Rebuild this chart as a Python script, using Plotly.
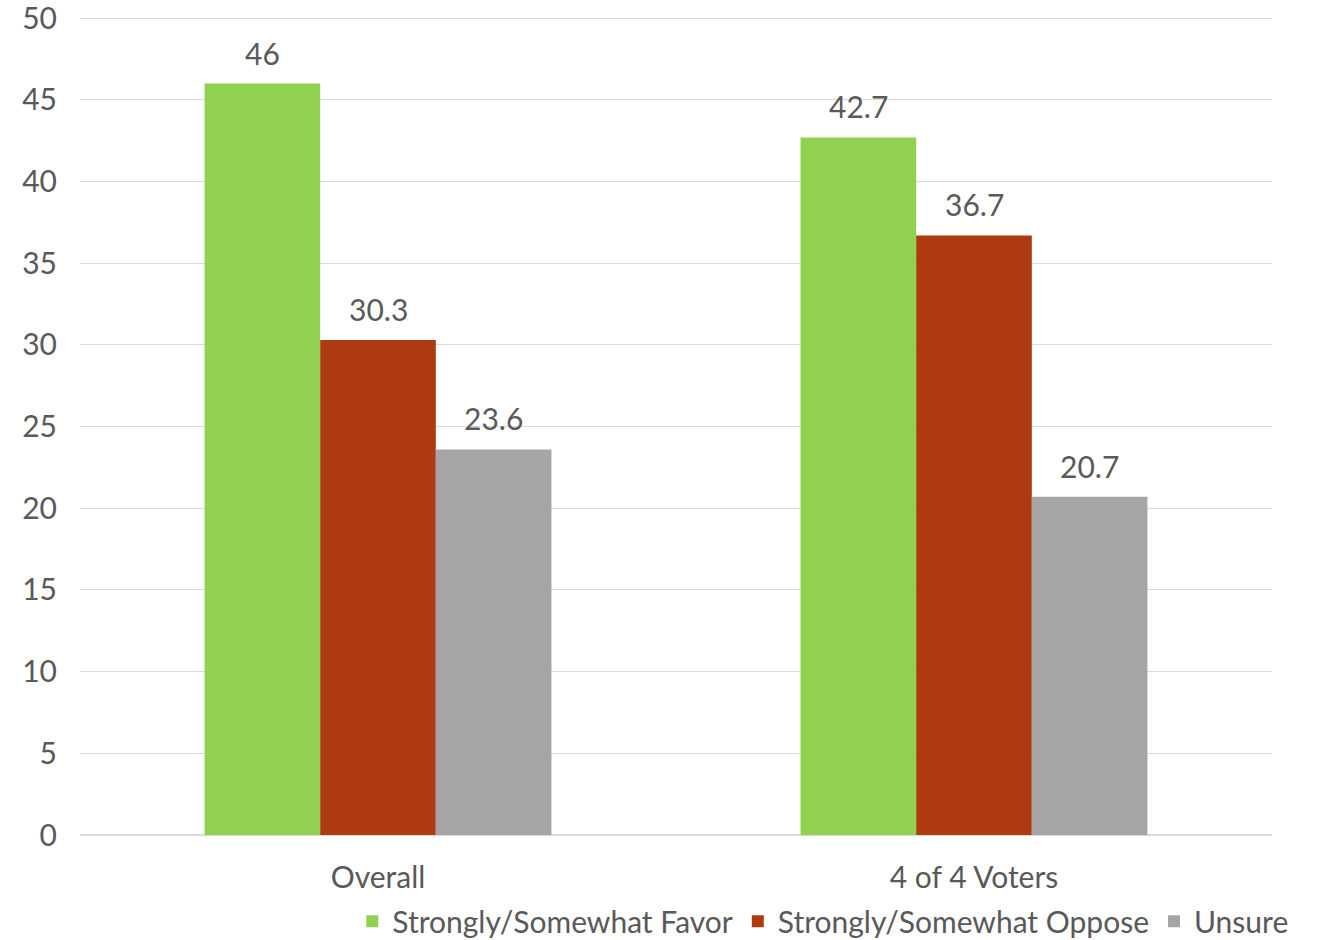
import plotly.graph_objects as go

categories = ["Overall", "4 of 4 Voters"]
favor = [46, 42.7]
oppose = [30.3, 36.7]
unsure = [23.6, 20.7]

series = [
    ("Strongly/Somewhat Favor", favor, "#92D050"),
    ("Strongly/Somewhat Oppose", oppose, "#AE3A10"),
    ("Unsure", unsure, "#A5A5A5"),
]

FONT = "Lato, 'Open Sans', sans-serif"
TEXT_COLOR = "#595959"
SIZE = 30

# each bar takes a fixed share of its category slot; three bars side by side
BAR_W = 0.194
offsets = [-1.5 * BAR_W, -0.5 * BAR_W, 0.5 * BAR_W]

fig = go.Figure()
annotations = []
for (name, vals, color), off in zip(series, offsets):
    fig.add_trace(go.Bar(
        name=name,
        x=list(range(len(categories))),
        y=vals,
        width=BAR_W,
        offset=off,
        marker=dict(color=color, line=dict(width=0)),
    ))
    for i, v in enumerate(vals):
        annotations.append(dict(
            x=i + off + BAR_W / 2, y=v, xref="x", yref="y",
            text=f"{v:g}", showarrow=False,
            yanchor="bottom", yshift=11,
            font=dict(family=FONT, size=SIZE, color=TEXT_COLOR),
        ))

fig.update_layout(
    barmode="overlay",
    width=1317,
    height=940,
    margin=dict(l=80, r=45, t=10, b=105, autoexpand=False),
    paper_bgcolor="white",
    plot_bgcolor="white",
    font=dict(family=FONT, size=SIZE, color=TEXT_COLOR),
    showlegend=True,
    annotations=annotations,
    legend=dict(
        orientation="h",
        xref="container", x=0.982, xanchor="right",
        yref="container", y=0.02, yanchor="middle",
        font=dict(family=FONT, size=SIZE, color=TEXT_COLOR),
        itemwidth=30,
        traceorder="normal",
        bgcolor="rgba(0,0,0,0)",
    ),
)
fig.update_yaxes(
    range=[0, 50.5],
    tickmode="linear",
    tick0=0,
    dtick=5,
    showgrid=True,
    gridcolor="#D9D9D9",
    gridwidth=1,
    zeroline=True,
    zerolinecolor="#D9D9D9",
    showline=False,
    ticks="",
    automargin=False,
    ticklabeloverflow="allow",
    ticklabelstandoff=22,
    tickfont=dict(family=FONT, size=SIZE, color=TEXT_COLOR),
)
fig.update_xaxes(
    range=[-0.5, len(categories) - 0.5],
    tickmode="array",
    tickvals=list(range(len(categories))),
    ticktext=categories,
    showgrid=False,
    showline=False,
    zeroline=False,
    ticks="",
    automargin=False,
    ticklabeloverflow="allow",
    ticklabelstandoff=22,
    tickfont=dict(family=FONT, size=SIZE, color=TEXT_COLOR),
)

fig.write_html("out.html")
